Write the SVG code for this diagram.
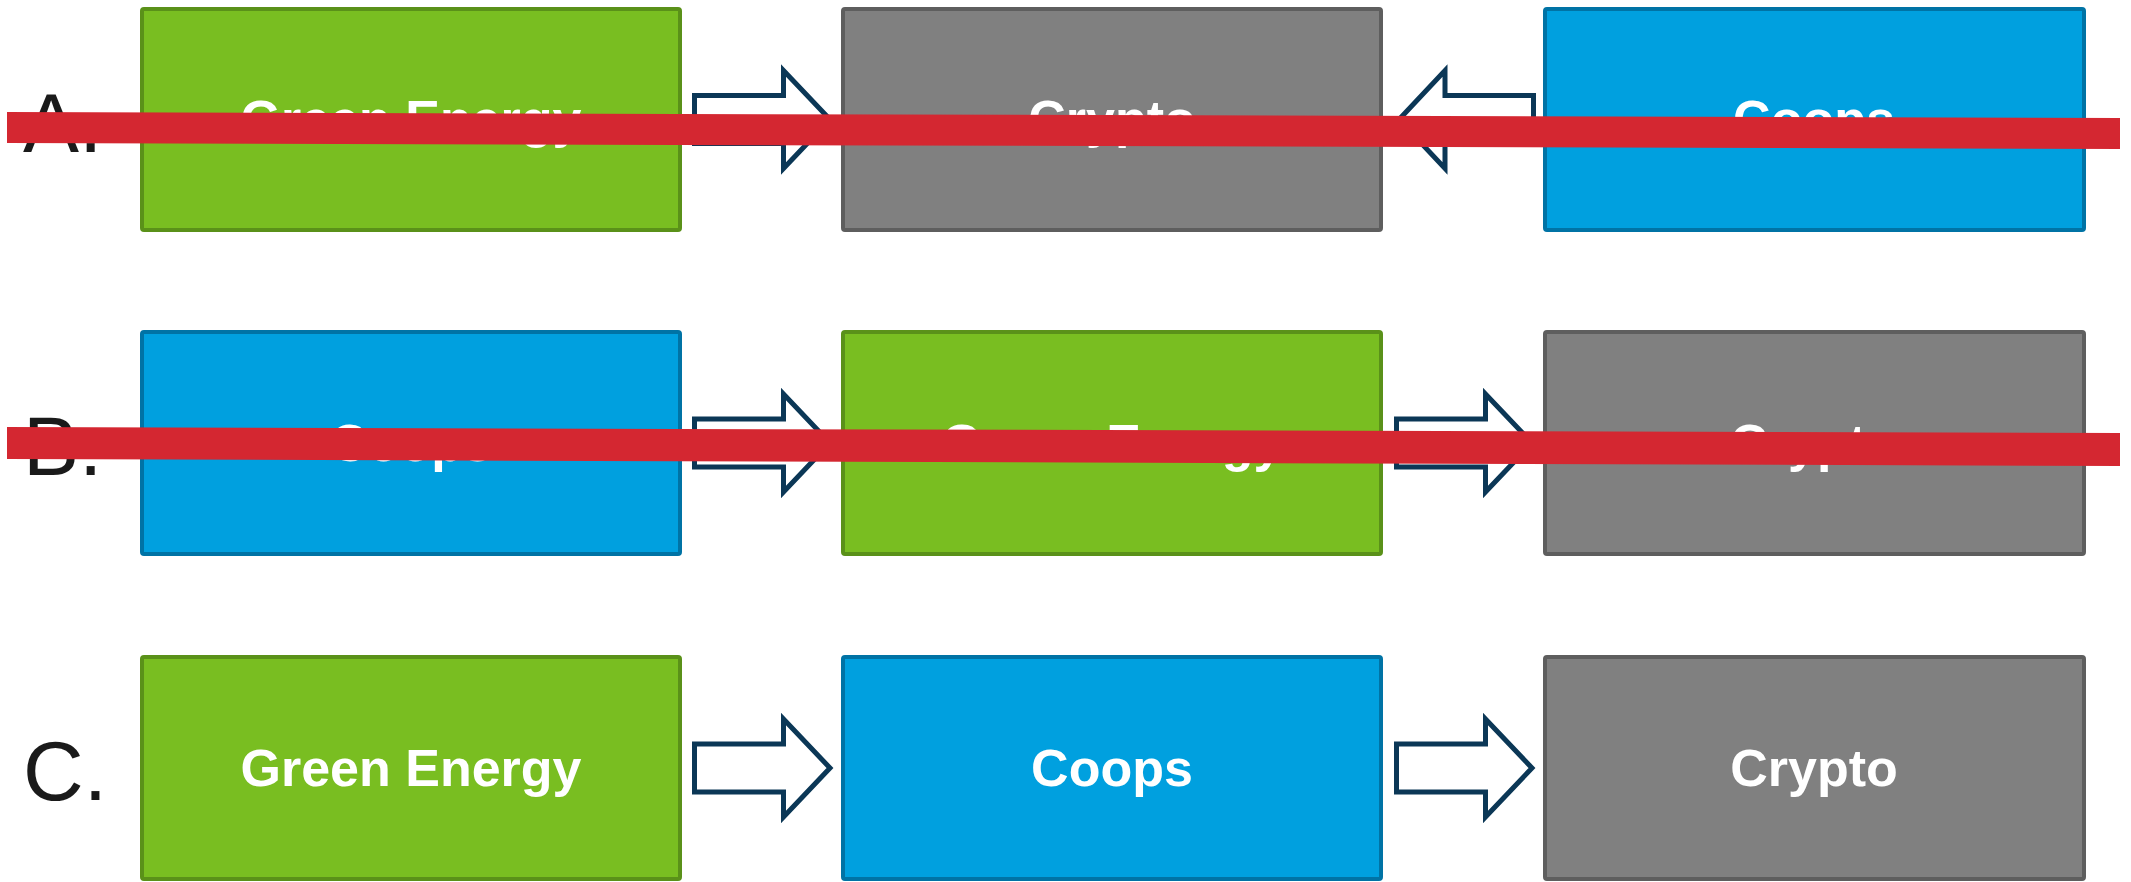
<svg xmlns="http://www.w3.org/2000/svg" width="2131" height="882" viewBox="0 0 2131 882">
<style>
.box{stroke-width:4}
.green{fill:#79BE21;stroke:#5A9119}
.gray{fill:#808080;stroke:#5E5E5E}
.blue{fill:#00A0DF;stroke:#0073A5}
.t{font-family:"Liberation Sans",Arial,sans-serif;font-weight:bold;font-size:52px;fill:#fff;text-anchor:middle}
.lbl{font-family:"Liberation Sans",Arial,sans-serif;font-size:84px;fill:#1a1a1a}
.arr{fill:#fff;stroke:#0B3756;stroke-width:5}
.strike{fill:#D42731}
</style>
<rect width="2131" height="882" fill="#fff"/>
<g id="labels">
<text class="lbl" x="23" y="152">A.</text>
<text class="lbl" x="23" y="475">B.</text>
<text class="lbl" x="23" y="800">C.</text>
</g>
<g id="rowA">
<g id="a1"><rect class="box green" x="142" y="9" width="538" height="221" rx="2"/><text class="t" x="411" y="137">Green Energy</text></g>
<g id="a2"><rect class="box gray" x="843" y="9" width="538" height="221" rx="2"/><text class="t" x="1112" y="137">Crypto</text></g>
<g id="a3"><rect class="box blue" x="1545" y="9" width="539" height="221" rx="2"/><text class="t" x="1814" y="137">Coops</text></g>
</g>
<g id="rowB">
<g id="b1"><rect class="box blue" x="142" y="332" width="538" height="222" rx="2"/><text class="t" x="411" y="461">Coops</text></g>
<g id="b2"><rect class="box green" x="843" y="332" width="538" height="222" rx="2"/><text class="t" x="1112" y="461">Green Energy</text></g>
<g id="b3"><rect class="box gray" x="1545" y="332" width="539" height="222" rx="2"/><text class="t" x="1814" y="461">Crypto</text></g>
</g>
<g id="rowC">
<g id="c1"><rect class="box green" x="142" y="657" width="538" height="222" rx="2"/><text class="t" x="411" y="786">Green Energy</text></g>
<g id="c2"><rect class="box blue" x="843" y="657" width="538" height="222" rx="2"/><text class="t" x="1112" y="786">Coops</text></g>
<g id="c3"><rect class="box gray" x="1545" y="657" width="539" height="222" rx="2"/><text class="t" x="1814" y="786">Crypto</text></g>
</g>
<g id="connectors">
<path class="arr" d="M694.5 95.5 H783.5 V70.5 L830 119.5 L783.5 168.5 V143.5 H694.5 Z"/>
<path class="arr" d="M1533.5 95.5 H1445 V70.5 L1399 119.5 L1445 168.5 V143.5 H1533.5 Z"/>
<path class="arr" d="M694.5 419 H783.5 V394 L830 443 L783.5 492 V467 H694.5 Z"/>
<path class="arr" d="M1396.5 419 H1485.5 V394 L1532 443 L1485.5 492 V467 H1396.5 Z"/>
<path class="arr" d="M694.5 744 H783.5 V719 L830 768 L783.5 817 V792 H694.5 Z"/>
<path class="arr" d="M1396.5 744 H1485.5 V719 L1532 768 L1485.5 817 V792 H1396.5 Z"/>
</g>
<g id="strikes">
<polygon class="strike" points="7,112 2120,118 2120,149 7,143"/>
<polygon class="strike" points="7,427 2120,433 2120,466 7,459"/>
</g>
</svg>
